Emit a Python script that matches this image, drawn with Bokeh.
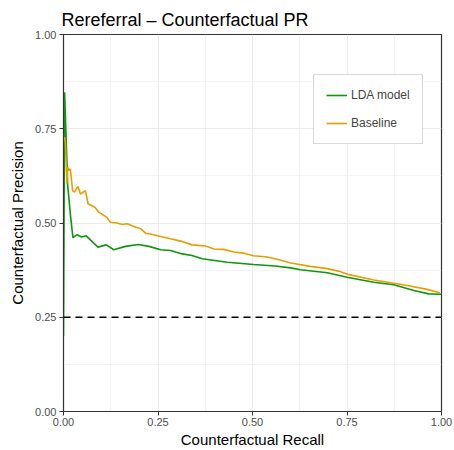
from bokeh.plotting import figure
from bokeh.models import ColumnDataSource, Range1d, Legend, LegendItem, FixedTicker, Span
from bokeh.embed import file_html
from bokeh.resources import INLINE

# LDA model curve (recall, precision)
lda_recall = [0.0, 0.003, 0.011, 0.019, 0.025, 0.036, 0.048, 0.060, 0.091, 0.113, 0.133,
              0.164, 0.198, 0.226, 0.257, 0.283, 0.314, 0.340, 0.367, 0.433, 0.503, 0.560,
              0.601, 0.627, 0.698, 0.750, 0.821, 0.874, 0.927, 0.966, 1.0]
lda_precision = [0.20, 0.847, 0.60, 0.515, 0.461, 0.469, 0.463, 0.466, 0.436, 0.442, 0.429,
                 0.438, 0.443, 0.438, 0.429, 0.427, 0.418, 0.414, 0.405, 0.396, 0.390, 0.386,
                 0.381, 0.376, 0.368, 0.356, 0.343, 0.336, 0.321, 0.312, 0.311]

# Baseline curve
base_recall = [0.002, 0.005, 0.009, 0.011, 0.014, 0.018, 0.024, 0.029, 0.038, 0.045, 0.058,
               0.065, 0.083, 0.093, 0.115, 0.124, 0.142, 0.155, 0.168, 0.186, 0.204, 0.217,
               0.239, 0.257, 0.283, 0.310, 0.340, 0.376, 0.398, 0.424, 0.451, 0.477, 0.503,
               0.539, 0.565, 0.601, 0.653, 0.698, 0.733, 0.755, 0.821, 0.874, 0.909, 0.962, 0.996]
base_precision = [0.728, 0.715, 0.604, 0.648, 0.639, 0.644, 0.586, 0.582, 0.597, 0.577, 0.586,
                  0.551, 0.542, 0.529, 0.515, 0.502, 0.500, 0.496, 0.498, 0.491, 0.485, 0.473,
                  0.469, 0.464, 0.458, 0.452, 0.442, 0.439, 0.431, 0.430, 0.423, 0.420, 0.413,
                  0.410, 0.404, 0.394, 0.385, 0.379, 0.371, 0.363, 0.349, 0.340, 0.334, 0.324, 0.315]

reference_precision = 0.25
ticks = [0.0, 0.25, 0.5, 0.75, 1.0]
tick_labels = ["0.00", "0.25", "0.50", "0.75", "1.00"]
minor = [0.125, 0.375, 0.625, 0.875]

FONT = "Liberation Sans"

p = figure(width=454, height=450, output_backend="svg", toolbar_location=None,
           x_range=Range1d(0, 1), y_range=Range1d(0, 1),
           min_border_left=63, min_border_right=13, min_border_top=34, min_border_bottom=39,
           title="Rereferral \u2013 Counterfactual PR")

p.title.text_font = FONT
p.title.text_font_size = "18px"
p.title.text_font_style = "normal"
p.title.text_color = "#000000"
p.title.offset = -2

src_l = ColumnDataSource(dict(x=lda_recall, y=lda_precision))
src_b = ColumnDataSource(dict(x=base_recall, y=base_precision))

p.add_layout(Span(location=reference_precision, dimension="width", line_color="black",
                  line_dash="7 5", line_width=1.5))
rl = p.line("x", "y", source=src_l, line_color="#0F960F", line_width=1.6)
rb = p.line("x", "y", source=src_b, line_color="#E69F00", line_width=1.6)

for ax in (p.xaxis[0], p.yaxis[0]):
    ax.ticker = FixedTicker(ticks=ticks, minor_ticks=minor)
    ax.major_label_overrides = {t: l for t, l in zip(ticks, tick_labels)}
    ax.major_label_text_font = FONT
    ax.major_label_text_font_size = "11px"
    ax.major_label_text_color = "#4D4D4D"
    ax.axis_label_text_font = FONT
    ax.axis_label_text_font_size = "15px"
    ax.axis_label_text_font_style = "normal"
    ax.axis_label_text_color = "#000000"
    ax.axis_line_color = "#333333"
    ax.major_tick_line_color = "#333333"
    ax.major_tick_out = 4
    ax.major_tick_in = 0
    ax.minor_tick_line_color = None

p.xaxis.major_label_standoff = 2
p.xaxis.axis_label_standoff = 2
p.yaxis.major_label_standoff = 3
p.yaxis.axis_label_standoff = 6
p.xaxis.axis_label = "Counterfactual Recall"
p.yaxis.axis_label = "Counterfactual Precision"
p.yaxis.major_label_orientation = "horizontal"

p.xgrid.grid_line_color = "#EBEBEB"
p.ygrid.grid_line_color = "#EBEBEB"
p.xgrid.grid_line_width = 1.1
p.ygrid.grid_line_width = 1.1
p.xgrid.minor_grid_line_color = "#EBEBEB"
p.ygrid.minor_grid_line_color = "#EBEBEB"
p.xgrid.minor_grid_line_width = 0.6
p.ygrid.minor_grid_line_width = 0.6

p.outline_line_color = "#333333"
p.outline_line_width = 1.2

legend = Legend(items=[LegendItem(label="LDA model", renderers=[rl]),
                       LegendItem(label="Baseline", renderers=[rb])],
                location=(250, 267))
legend.label_text_font = FONT
legend.label_text_font_size = "12px"
legend.label_height = 16
legend.glyph_height = 16
legend.glyph_width = 21
legend.label_standoff = 4
legend.spacing = 12
legend.padding = 12
legend.margin = 0
legend.border_line_color = "#B3B3B3"
legend.border_line_width = 1.2
legend.background_fill_alpha = 1.0
p.add_layout(legend, "center")

open("out.html", "w").write(file_html(p, INLINE))
